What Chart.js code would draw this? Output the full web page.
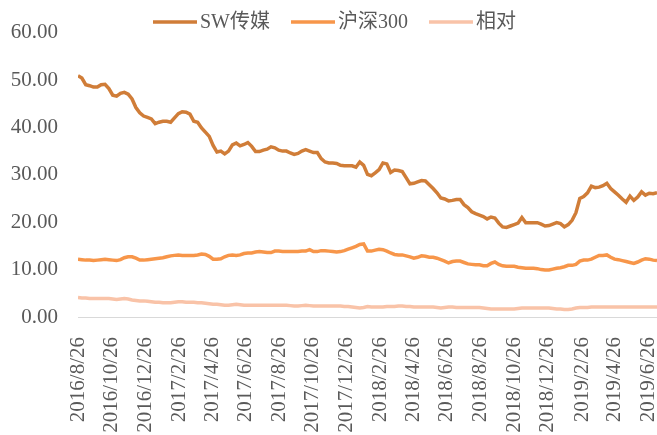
<!DOCTYPE html>
<html>
<head>
<meta charset="utf-8">
<script src="https://cdn.jsdelivr.net/npm/chart.js@4.4.1/dist/chart.umd.min.js"></script>
<style>
  html, body { margin: 0; padding: 0; background: #fff; }
  canvas { display: block; }
</style>
</head>
<body>
<canvas id="chart" width="657" height="435"></canvas>
<script>
// weekly data, first week = 2016/8/26
const startDate = '2016/8/26';

const tickLabels = ['2016/8/26', '2016/10/26', '2016/12/26', '2017/2/26', '2017/4/26', '2017/6/26',
  '2017/8/26', '2017/10/26', '2017/12/26', '2018/2/26', '2018/4/26', '2018/6/26',
  '2018/8/26', '2018/10/26', '2018/12/26', '2019/2/26', '2019/4/26', '2019/6/26'];

const seriesNames = ['SW传媒', '沪深300', '相对'];

const swMedia = [
  50.9, 50.4, 49.0, 48.8, 48.5, 48.5, 49.0, 49.1, 48.2, 46.8,
  46.6, 47.2, 47.4, 47.0, 46.0, 44.2, 43.1, 42.4, 42.1, 41.8,
  40.8, 41.1, 41.3, 41.3, 41.1, 42.0, 42.9, 43.3, 43.2, 42.8,
  41.3, 41.1, 39.9, 39.0, 38.1, 36.2, 34.8, 35.0, 34.4, 35.0,
  36.3, 36.7, 36.1, 36.4, 36.8, 36.0, 34.9, 34.9, 35.2, 35.4,
  35.9, 35.7, 35.2, 35.0, 35.0, 34.6, 34.3, 34.5, 35.0, 35.3,
  35.0, 34.7, 34.7, 33.4, 32.7, 32.5, 32.5, 32.4, 32.0, 31.9,
  31.9, 31.9, 31.6, 32.7, 32.0, 30.1, 29.8, 30.4, 31.1, 32.5,
  32.3, 30.5, 31.0, 30.9, 30.7, 29.4, 28.1, 28.2, 28.5, 28.8,
  28.7, 27.9, 27.1, 26.2, 25.1, 24.9, 24.5, 24.6, 24.8, 24.8,
  23.7, 23.1, 22.2, 21.8, 21.5, 21.2, 20.7, 21.1, 20.9, 19.8,
  19.0, 18.9, 19.2, 19.5, 19.8, 21.0, 19.9, 19.9, 19.9, 19.9,
  19.6, 19.2, 19.3, 19.6, 19.9, 19.7, 19.0, 19.5, 20.4, 22.0,
  25.0, 25.4, 26.2, 27.6, 27.3, 27.4, 27.7, 28.2, 27.1, 26.4,
  25.7, 24.9, 24.2, 25.5, 24.6, 25.3, 26.4, 25.7, 26.1, 26.0, 26.2
];

const hs300 = [
  12.2, 12.1, 12.0, 12.0, 11.9, 12.0, 12.1, 12.2, 12.1, 12.0,
  11.9, 12.1, 12.5, 12.7, 12.7, 12.4, 12.0, 12.0, 12.1, 12.2,
  12.3, 12.4, 12.5, 12.7, 12.9, 13.0, 13.1, 13.0, 13.0, 13.0,
  13.0, 13.1, 13.3, 13.2, 12.8, 12.2, 12.2, 12.3, 12.7, 13.0,
  13.1, 13.0, 13.1, 13.4, 13.5, 13.5, 13.7, 13.8, 13.7, 13.6,
  13.6, 13.9, 13.9, 13.8, 13.8, 13.8, 13.8, 13.8, 13.9, 13.9,
  14.2, 13.8, 13.8, 14.0, 14.0, 13.9, 13.8, 13.7, 13.8, 14.0,
  14.3, 14.6, 14.9, 15.3, 15.4, 13.9, 13.9, 14.1, 14.3, 14.2,
  13.9, 13.5, 13.2, 13.1, 13.1, 12.9, 12.7, 12.4, 12.6, 12.9,
  12.8, 12.6, 12.6, 12.4, 12.1, 11.8, 11.4, 11.7, 11.8, 11.8,
  11.5, 11.2, 11.1, 11.0, 11.0, 10.8, 10.8, 11.3, 11.6, 11.1,
  10.8, 10.7, 10.7, 10.7, 10.5, 10.4, 10.3, 10.3, 10.3, 10.2,
  10.0, 9.9, 9.9, 10.1, 10.3, 10.4, 10.6, 10.9, 10.9, 11.1,
  11.8, 12.0, 12.0, 12.2, 12.6, 13.0, 13.0, 13.1, 12.6, 12.2,
  12.1, 11.9, 11.7, 11.5, 11.3, 11.6, 12.0, 12.3, 12.2, 12.0, 11.9
];

const relative = [
  4.1, 4.0, 4.0, 3.9, 3.9, 3.9, 3.9, 3.9, 3.9, 3.8,
  3.7, 3.8, 3.9, 3.8, 3.6, 3.5, 3.4, 3.4, 3.3, 3.2,
  3.1, 3.1, 3.0, 3.0, 3.0, 3.1, 3.2, 3.2, 3.1, 3.1,
  3.1, 3.0, 3.0, 2.9, 2.8, 2.7, 2.7, 2.6, 2.5, 2.5,
  2.6, 2.7, 2.6, 2.5, 2.5, 2.5, 2.5, 2.5, 2.5, 2.5,
  2.5, 2.5, 2.5, 2.5, 2.5, 2.4, 2.3, 2.3, 2.4, 2.5,
  2.4, 2.3, 2.3, 2.3, 2.3, 2.3, 2.3, 2.3, 2.3, 2.2,
  2.2, 2.1, 2.0, 1.9, 2.0, 2.2, 2.1, 2.1, 2.1, 2.1,
  2.2, 2.2, 2.2, 2.3, 2.3, 2.2, 2.2, 2.1, 2.1, 2.1,
  2.1, 2.1, 2.1, 2.0, 1.9, 2.0, 2.1, 2.1, 2.0, 2.0,
  2.0, 2.0, 2.0, 2.0, 2.0, 1.9, 1.8, 1.7, 1.7, 1.7,
  1.7, 1.7, 1.7, 1.7, 1.8, 1.9, 1.9, 1.9, 1.9, 1.9,
  1.9, 1.9, 1.9, 1.8, 1.7, 1.7, 1.6, 1.6, 1.7, 1.9,
  2.0, 2.0, 2.0, 2.1, 2.1, 2.1, 2.1, 2.1, 2.1, 2.1,
  2.1, 2.1, 2.1, 2.1, 2.1, 2.1, 2.1, 2.1, 2.1, 2.1, 2.1
];

const seriesColors = ['#D07D38', '#F7964A', '#F9C3A8'];
const fontFamily = '"Liberation Serif", "Times New Roman", "Noto Sans CJK SC", serif';
const textColor = '#595959';

function dayOffset(label) {
  const p = label.split('/').map(Number);
  const s = startDate.split('/').map(Number);
  return Math.round((Date.UTC(p[0], p[1] - 1, p[2]) - Date.UTC(s[0], s[1] - 1, s[2])) / 86400000);
}

function weekly(values) {
  return values.map((v, i) => ({ x: i * 7, y: v }));
}

const tickByDay = {};
tickLabels.forEach(l => { tickByDay[dayOffset(l)] = l; });

// legend sits over the plot, like the excel one
const topLegend = {
  id: 'topLegend',
  afterDraw(chart) {
    const ctx = chart.ctx;
    ctx.save();
    ctx.font = '20px ' + fontFamily;
    ctx.textBaseline = 'middle';
    let x = 153;
    const y = 22;
    chart.data.datasets.forEach(ds => {
      ctx.strokeStyle = ds.borderColor;
      ctx.lineWidth = 3.5;
      ctx.beginPath();
      ctx.moveTo(x, y);
      ctx.lineTo(x + 44, y);
      ctx.stroke();
      ctx.fillStyle = textColor;
      ctx.fillText(ds.label, x + 47, y + 1);
      x += 47 + ctx.measureText(ds.label).width + 21;
    });
    ctx.restore();
  }
};

new Chart(document.getElementById('chart'), {
  type: 'line',
  data: {
    datasets: [swMedia, hs300, relative].map((vals, i) => ({
      label: seriesNames[i],
      data: weekly(vals),
      borderColor: seriesColors[i],
      backgroundColor: seriesColors[i],
      borderWidth: 3.5,
      pointRadius: 0,
      tension: 0
    }))
  },
  options: {
    responsive: false,
    animation: false,
    devicePixelRatio: 1,
    layout: { padding: { top: 17, left: 0, right: 0, bottom: 0 } },
    plugins: {
      legend: { display: false },
      tooltip: { enabled: false }
    },
    scales: {
      x: {
        type: 'linear',
        min: 0,
        max: (swMedia.length - 1) * 7,
        grid: { display: false, drawTicks: false },
        border: { display: true, color: '#D9D9D9', width: 1 },
        afterBuildTicks(scale) {
          scale.ticks = tickLabels.map(l => ({ value: dayOffset(l) }));
        },
        afterFit(scale) {
          scale.height = 118;
          scale.paddingLeft = 0;
          scale.paddingRight = 0;
        },
        ticks: {
          autoSkip: false,
          maxRotation: 90,
          minRotation: 90,
          padding: 20,
          color: textColor,
          font: { family: fontFamily, size: 21 },
          callback: v => tickByDay[v] || ''
        }
      },
      y: {
        min: 0,
        max: 60,
        grid: { display: false, drawTicks: false },
        border: { display: false },
        afterFit(scale) {
          scale.width = 78;
        },
        ticks: {
          stepSize: 10,
          padding: 20,
          color: textColor,
          font: { family: fontFamily, size: 21 },
          callback: v => v.toFixed(2)
        }
      }
    }
  },
  plugins: [topLegend]
});
</script>
</body>
</html>
